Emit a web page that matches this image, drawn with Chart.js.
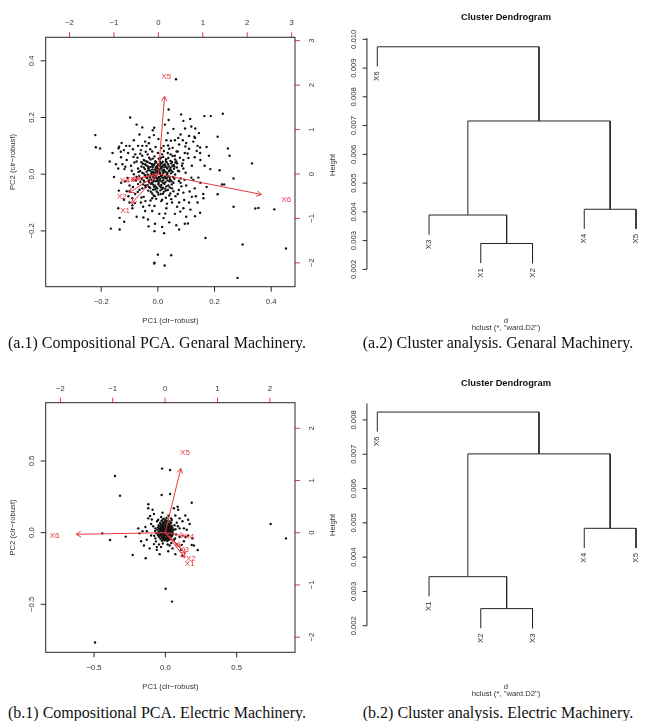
<!DOCTYPE html>
<html>
<head>
<meta charset="utf-8">
<script src="https://cdn.jsdelivr.net/npm/chart.js@4.4.1/dist/chart.umd.min.js"></script>
<style>
  body { margin: 0; background: #fff; width: 645px; height: 721px; position: relative; overflow: hidden; }
  .panel { position: absolute; }
  .cap { position: absolute; font-family: "Liberation Serif", "Times New Roman", serif; font-size: 16px; line-height: 18px;
         color: #111; white-space: nowrap; transform: translateX(-50%); }
</style>
</head>
<body>
<div class="panel" style="left:0;top:0"><canvas id="pcaA" width="320" height="335"></canvas></div>
<div class="panel" style="left:320px;top:0"><canvas id="dendA" width="325" height="335"></canvas></div>
<div class="panel" style="left:0;top:360px"><canvas id="pcaB" width="320" height="340"></canvas></div>
<div class="panel" style="left:320px;top:360px"><canvas id="dendB" width="325" height="340"></canvas></div>
<div class="cap" style="left:157px;top:334px">(a.1) Compositional PCA. Genaral Machinery.</div>
<div class="cap" style="left:498px;top:334px">(a.2) Cluster analysis. Genaral Machinery.</div>
<div class="cap" style="left:157px;top:704px">(b.1) Compositional PCA. Electric Machinery.</div>
<div class="cap" style="left:498px;top:704px">(b.2) Cluster analysis. Electric Machinery.</div>
<script>
// ---- General Machinery: biplot ----
const pcaA_xTicks = [-0.2, 0, 0.2, 0.4]
const pcaA_yTicks = [-0.2, 0, 0.2, 0.4]
const pcaA_topTicks = [-2, -1, 0, 1, 2, 3]
const pcaA_rightTicks = [-2, -1, 0, 1, 2, 3]
const pcaA_vars = ['X1', 'X2', 'X3', 'X4', 'X5', 'X6']
const pcaA_arrowX = [-0.6, -0.66, -0.51, -0.61, 0.14, 2.32]
const pcaA_arrowY = [-0.66, -0.42, -0.11, -0.13, 1.75, -0.46]
const pcaA_labelX = [-0.75, -0.82, -0.64, -0.76, 0.18, 2.88]
const pcaA_labelY = [-0.83, -0.52, -0.13, -0.16, 2.18, -0.59]
const pcaA_points = [
  // outlying scores
  [0.064, 0.335], [-0.098, 0.2], [-0.221, 0.138], [-0.219, 0.095], [-0.204, 0.091], [0.038, 0.228], [0.082, 0.211],
  [0.114, 0.195], [0.164, 0.205], [0.187, 0.205], [0.229, 0.213], [0.211, 0.132], [0.247, 0.091], [0.253, 0.065],
  [0.332, 0.038], [0.218, 0.014], [0.267, -0.015], [0.234, -0.036], [0.226, -0.036], [0.211, -0.071], [0.161, -0.085],
  [0.267, -0.115], [0.344, -0.121], [0.355, -0.119], [0.411, -0.124], [0.168, -0.225], [0.299, -0.248], [0.452, -0.262],
  [0.281, -0.366], [0, -0.284], [-0.012, -0.312], [-0.013, -0.315], [0.024, -0.322], [0.047, -0.286], [-0.166, -0.192],
  [-0.135, -0.195], [-0.135, -0.154], [-0.119, -0.168], [-0.012, -0.201], [0.022, -0.208], [0.015, -0.186], [0.075, -0.195],
  [0.106, -0.174], [0.131, -0.148], [0.149, -0.136], [0.079, -0.132], [0.026, -0.139], [-0.033, -0.184], [-0.051, -0.153],
  [-0.139, 0.091], [-0.137, 0.097], [-0.112, 0.1], [-0.014, 0.138], [-0.013, 0.164], [0.038, 0.191], [0.096, 0.161],
  [0.132, 0.161], [0.129, 0.132], [0.131, 0.128], [0.088, 0.12], [0.149, 0.094], [0.172, 0.096], [0.105, 0.073],
  [0.149, 0.075], [-0.131, 0.079], [-0.086, 0.061], [-0.115, 0.026], [-0.148, 0.035], [-0.1, -0.06], [-0.09, -0.11],
  // spread around the centre
  [-0.08, 0.07], [-0.11, 0.05], [-0.07, 0.1], [-0.095, 0.03], [-0.13, 0.06], [-0.06, 0.085], [-0.12, 0.085], [-0.085, 0.12],
  [-0.04, 0.1], [-0.03, 0.13], [-0.14, 0.02], [-0.1, 0.1], [-0.075, 0.045], [-0.055, 0.065], [-0.02, 0.08], [-0.045, 0.115],
  [-0.125, 0.035], [-0.16, 0.075], [-0.065, 0.14], [-0.018, 0.155],
  [0.07, 0.08], [0.09, 0.05], [0.06, 0.12], [0.11, 0.09], [0.13, 0.06], [0.08, 0.14], [0.1, 0.11], [0.04, 0.09], [0.03, 0.12],
  [0.12, 0.03], [0.15, 0.05], [0.055, 0.16], [0.075, 0.105], [0.02, 0.1], [0.095, 0.075], [0.14, 0.1], [0.165, 0.03],
  [0.045, 0.07], [0.11, 0.135], [0.065, 0.045], [0.18, 0.065], [0.085, 0.03], [0.025, 0.175], [0.125, 0.115], [0.035, 0.145],
  [-0.08, -0.07], [-0.1, -0.04], [-0.06, -0.1], [-0.12, -0.09], [-0.09, -0.12], [-0.05, -0.08], [-0.07, -0.035], [-0.11, -0.06],
  [-0.03, -0.11], [-0.02, -0.085], [-0.13, -0.03], [-0.075, -0.15], [-0.045, -0.13], [-0.1, -0.1], [-0.14, -0.12],
  [-0.065, -0.055], [-0.035, -0.16], [-0.02, -0.13], [-0.09, -0.085], [-0.115, -0.025],
  [0.07, -0.07], [0.1, -0.04], [0.05, -0.1], [0.12, -0.08], [0.09, -0.12], [0.04, -0.075], [0.08, -0.03], [0.11, -0.1],
  [0.03, -0.12], [0.015, -0.09], [0.13, -0.05], [0.06, -0.14], [0.1, -0.15], [0.14, -0.1], [0.075, -0.1], [0.02, -0.155],
  [0.055, -0.06], [0.09, -0.065], [0.15, -0.03], [0.115, -0.125], [0.04, -0.17], [0.16, -0.07], [0.065, -0.18], [0.005, -0.14],
  [0.125, -0.02], [-0.07, 0.02], [-0.075, -0.01], [0.075, 0.01], [0.08, -0.015], [0, 0.075], [0.015, 0.07], [-0.015, -0.075],
  [0.01, -0.07], [0.06, 0.065], [-0.055, -0.05], [0.05, -0.05], [-0.05, 0.05], [0.035, 0.075], [-0.085, 0], [0.09, 0.02], [0, -0.065],
  [-0.083, 0.041], [-0.092, 0.012], [-0.078, -0.022], [-0.088, -0.045], [-0.071, -0.063], [-0.058, -0.082], [-0.044, -0.095],
  [-0.026, -0.093], [-0.006, -0.087], [0.012, -0.095], [0.028, -0.083], [0.047, -0.088], [0.062, -0.078], [0.074, -0.056],
  [0.083, -0.043], [0.094, -0.02], [0.098, 0.005], [0.087, 0.038], [0.078, 0.058], [0.066, 0.08], [0.052, 0.093], [0.036, 0.101],
  [0.012, 0.092], [-0.008, 0.096], [-0.027, 0.088], [-0.043, 0.079], [-0.062, 0.072], [-0.072, 0.058], [-0.105, 0.075],
  [-0.118, 0.018], [-0.107, -0.013], [-0.104, -0.078], [-0.081, -0.102], [-0.052, -0.115], [-0.012, -0.112], [0.032, -0.104],
  [0.068, -0.115], [0.093, -0.091], [0.112, -0.061], [0.118, -0.012], [0.108, 0.057], [0.097, 0.098], [0.072, 0.128],
  [0.046, 0.118], [0.002, 0.124], [-0.032, 0.109], [-0.055, 0.1], [-0.088, 0.088], [0.137, 0.082], [0.143, -0.012],
  [0.134, -0.078], [-0.138, -0.058], [-0.128, 0.11], [0.058, 0.027], [-0.068, 0.008], [0.074, -0.024], [-0.062, -0.028],
  [0.068, 0.038], [-0.058, 0.042], [0.044, -0.068], [-0.036, 0.07], [0.021, 0.082], [-0.011, -0.078], [0.118, 0.168],
  [0.09, 0.188], [-0.055, 0.165], [0.145, 0.145], [0.172, -0.045], [0.185, 0.018], [-0.155, -0.01], [-0.17, 0.045],
  [-0.075, 0.175], [0.095, -0.175], [-0.01, -0.175],
  // dense core
  [-0.031, 0.058], [-0.012, 0.063], [0.003, 0.055], [0.019, 0.061], [0.037, 0.057], [0.052, 0.064],
  [-0.047, 0.048], [-0.026, 0.052], [-0.009, 0.046], [0.006, 0.051], [0.017, 0.044], [0.029, 0.053], [0.044, 0.047], [0.061, 0.052],
  [-0.053, 0.037], [-0.036, 0.043], [-0.021, 0.036], [-0.006, 0.041], [0.001, 0.034], [0.013, 0.039], [0.024, 0.035],
  [0.031, 0.042], [0.047, 0.038], [0.056, 0.033],
  [-0.058, 0.027], [-0.041, 0.031], [-0.027, 0.025], [-0.014, 0.032], [-0.003, 0.026], [0.007, 0.029], [0.016, 0.024],
  [0.026, 0.031], [0.038, 0.027], [0.051, 0.029], [0.067, 0.024],
  [-0.046, 0.018], [-0.033, 0.021], [-0.019, 0.017], [-0.008, 0.023], [0.002, 0.018], [0.011, 0.021], [0.022, 0.016],
  [0.033, 0.02], [0.043, 0.017], [0.057, 0.019],
  [-0.063, 0.011], [-0.04, 0.009], [-0.028, 0.013], [-0.016, 0.008], [-0.004, 0.012], [0.005, 0.009], [0.016, 0.013],
  [0.028, 0.007], [0.039, 0.011], [0.052, 0.008], [0.071, 0.012],
  [-0.05, 0.002], [-0.036, -0.001], [-0.023, 0.003], [-0.011, -0.002], [-0.001, 0.004], [0.009, 0.001], [0.019, 0.004],
  [0.032, -0.002], [0.046, 0.003], [0.061, -0.001],
  [-0.066, -0.006], [-0.043, -0.009], [-0.029, -0.005], [-0.017, -0.011], [-0.006, -0.006], [0.004, -0.01], [0.014, -0.005],
  [0.025, -0.009], [0.037, -0.006], [0.054, -0.01],
  [-0.057, -0.017], [-0.038, -0.014], [-0.024, -0.019], [-0.013, -0.015], [-0.002, -0.02], [0.008, -0.016], [0.019, -0.021],
  [0.029, -0.015], [0.043, -0.019], [0.058, -0.016],
  [-0.048, -0.027], [-0.033, -0.024], [-0.02, -0.029], [-0.008, -0.025], [0.003, -0.03], [0.013, -0.026], [0.027, -0.028],
  [0.041, -0.025], [0.055, -0.03],
  [-0.053, -0.036], [-0.037, -0.039], [-0.024, -0.034], [-0.011, -0.04], [0.001, -0.035], [0.012, -0.038], [0.023, -0.034],
  [0.037, -0.04], [0.049, -0.036],
  [-0.043, -0.046], [-0.027, -0.049], [-0.014, -0.044], [-0.002, -0.05], [0.011, -0.046], [0.026, -0.051], [0.042, -0.047],
  [-0.034, -0.058], [-0.017, -0.055], [-0.004, -0.061], [0.009, -0.057], [0.021, -0.062], [0.035, -0.056],
  [-0.02, -0.068], [0.002, -0.072], [0.018, -0.069],
  [-0.015, 0.005], [0, 0.01], [0.012, -0.003], [-0.007, -0.012], [0.02, 0.01], [-0.022, -0.004], [0.006, 0.016], [-0.01, 0.016],
  [0.016, -0.012], [-0.018, 0.026], [0.024, 0.026], [0, -0.024], [-0.03, -0.02], [0.032, -0.012], [0.009, 0.037], [-0.004, 0.028],
  [-0.04, 0.045], [-0.018, 0.055], [0.011, 0.058], [0.028, 0.046], [0.05, 0.043], [-0.045, 0.035], [-0.028, 0.039],
  [-0.012, 0.037], [0.007, 0.043], [0.019, 0.032], [0.036, 0.035], [0.062, 0.041],
  [-0.05, 0.024], [-0.035, 0.027], [-0.02, 0.028], [-0.002, 0.021], [0.013, 0.027], [0.03, 0.025], [0.045, 0.023],
  [-0.055, 0.005], [-0.034, 0.014], [-0.022, 0.009], [-0.009, 0.006], [0.008, 0.005], [0.023, 0.011], [0.034, 0.005], [0.047, 0.012],
  [-0.045, -0.004], [-0.028, -0.011], [-0.016, -0.003], [-0.001, -0.014], [0.01, -0.007], [0.021, -0.013], [0.041, -0.012],
  [-0.05, -0.022], [-0.03, -0.03], [-0.015, -0.024], [0.006, -0.022], [0.019, -0.031], [0.034, -0.022], [0.048, -0.025],
  [-0.045, -0.04], [-0.031, -0.045], [-0.018, -0.036], [-0.006, -0.045], [0.006, -0.041], [0.018, -0.048], [0.03, -0.043],
  [-0.025, -0.062], [-0.01, -0.053], [0.015, -0.052], [0.028, -0.058]
]

// ---- Electric Machinery: biplot ----
const pcaB_xTicks = [-0.5, 0, 0.5]
const pcaB_yTicks = [-0.5, 0, 0.5]
const pcaB_topTicks = [-2, -1, 0, 1, 2]
const pcaB_rightTicks = [-2, -1, 0, 1, 2]
const pcaB_vars = ['X1', 'X2', 'X3', 'X4', 'X5', 'X6']
const pcaB_arrowX = [0.38, 0.39, 0.29, 0.37, 0.3, -1.7]
const pcaB_arrowY = [-0.48, -0.4, -0.27, -0.06, 1.23, -0.03]
const pcaB_labelX = [0.47, 0.49, 0.36, 0.46, 0.38, -2.11]
const pcaB_labelY = [-0.6, -0.5, -0.33, -0.08, 1.53, -0.06]
const pcaB_points = [
  [-0.353, 0.395], [-0.318, 0.258], [-0.023, 0.447], [0.033, 0.437], [0.033, 0.27], [-0.026, 0.263], [0.086, 0.181],
  [0.185, 0.209], [0.738, 0.06], [0.846, -0.04], [-0.442, -0.005], [-0.388, -0.051], [-0.278, -0.028], [-0.182, -0.005],
  [-0.229, -0.156], [-0.138, -0.179], [0.002, -0.391], [0.047, -0.481], [-0.493, -0.767], [0.227, -0.121], [0.185, -0.086],
  [-0.119, 0.198], [-0.107, 0.116],
  [-0.1, 0.06], [-0.12, 0.1], [-0.08, 0.13], [-0.07, 0.03], [-0.14, 0.04], [-0.1, -0.02], [-0.13, -0.05], [-0.08, -0.08],
  [-0.11, -0.11], [-0.06, -0.12], [-0.03, -0.1], [-0.09, 0.16], [-0.05, 0.09], [-0.15, -0.09], [-0.04, -0.15], [-0.16, 0.01],
  [-0.12, 0.17], [-0.07, -0.04], [-0.02, 0.14], [-0.19, 0.03],
  [0.08, 0.07], [0.1, 0.03], [0.07, 0.12], [0.12, 0.08], [0.06, 0.17], [0.1, -0.03], [0.13, -0.06], [0.08, -0.08],
  [0.11, -0.12], [0.05, -0.11], [0.03, -0.09], [0.15, 0.02], [0.16, -0.02], [0.04, 0.1], [0.14, 0.12], [0.07, -0.15],
  [0.17, 0.06], [0.02, -0.13], [0.12, -0.16], [0.09, 0.16], [0.19, -0.04], [0.06, -0.05], [0.1, 0.1], [0.13, 0.03],
  [-0.085, 0.045], [-0.072, 0.012], [-0.078, -0.022], [-0.066, -0.061], [-0.045, -0.082], [-0.018, -0.076], [0.016, -0.083],
  [0.042, -0.072], [0.068, -0.041], [0.075, -0.012], [0.071, 0.024], [0.064, 0.052], [0.045, 0.088], [0.022, 0.118],
  [-0.03, 0.11], [-0.058, 0.08], [-0.095, 0.092], [-0.13, 0.01], [0.115, -0.085], [0.142, -0.03], [0.088, 0.045],
  [-0.06, -0.1], [0.2, -0.09], [0.16, 0.09], [-0.17, -0.06],
  [-0.012, 0.098], [0.008, 0.103],
  [-0.027, 0.082], [-0.006, 0.077], [0.013, 0.084], [0.029, 0.078],
  [-0.037, 0.067], [-0.017, 0.062], [0.002, 0.068], [0.019, 0.063], [0.041, 0.069],
  [-0.047, 0.052], [-0.023, 0.048], [-0.009, 0.054], [0.01, 0.047], [0.027, 0.053], [0.043, 0.049],
  [-0.052, 0.037], [-0.032, 0.033], [-0.014, 0.038], [0.003, 0.032], [0.016, 0.037], [0.032, 0.031], [0.048, 0.036],
  [-0.057, 0.021], [-0.037, 0.018], [-0.021, 0.023], [-0.004, 0.017], [0.009, 0.022], [0.024, 0.018], [0.041, 0.023], [0.058, 0.019],
  [-0.048, 0.007], [-0.028, 0.01], [-0.013, 0.005], [0.002, 0.009], [0.016, 0.004], [0.032, 0.01], [0.049, 0.006],
  [-0.062, -0.004], [-0.039, -0.007], [-0.024, -0.002], [-0.007, -0.008], [0.007, -0.003], [0.022, -0.007], [0.036, -0.002], [0.053, -0.006],
  [-0.051, -0.019], [-0.032, -0.016], [-0.016, -0.021], [0.001, -0.017], [0.013, -0.02], [0.031, -0.015], [0.048, -0.02],
  [-0.043, -0.031], [-0.026, -0.028], [-0.01, -0.033], [0.009, -0.029], [0.023, -0.032], [0.043, -0.028],
  [-0.034, -0.044], [-0.017, -0.041], [0.002, -0.045], [0.016, -0.042], [0.033, -0.046],
  [-0.024, -0.057], [-0.006, -0.054], [0.014, -0.058],
  [-0.005, 0.027], [0.01, 0.012], [-0.018, 0.014], [0.02, -0.012], [-0.01, -0.025], [0, 0.045], [0.025, 0.04], [-0.03, 0.045],
  [0.005, -0.035], [0.038, -0.01],
  [-0.02, 0.09], [0, 0.088], [-0.016, 0.072], [0.01, 0.073], [0.03, 0.06], [-0.03, 0.058], [-0.002, 0.058], [0.018, 0.055],
  [-0.04, 0.044], [-0.022, 0.04], [0.008, 0.04], [0.038, 0.042], [-0.045, 0.028], [-0.028, 0.026], [-0.012, 0.03],
  [0.018, 0.028], [0.034, 0.024], [0.05, 0.028], [-0.04, 0.012], [-0.02, 0.016], [0, 0.002], [0.024, 0.012], [0.042, 0.013],
  [-0.05, -0.01], [-0.032, -0.01], [-0.015, -0.012], [0.014, -0.01], [0.03, -0.022], [0.045, -0.012], [-0.04, -0.024],
  [-0.022, -0.038], [-0.005, -0.04], [0.015, -0.035], [0.03, -0.04], [-0.014, -0.05], [0.006, -0.05], [0.024, -0.05]
]

// ---- dendrograms (hclust, ward.D2) ----
const dendA_order = ['X6', 'X3', 'X1', 'X2', 'X4', 'X5']
const dendA_merges = [['X1', 'X2'], ['X3', 0], ['X4', 'X5'], [1, 2], ['X6', 3]]
const dendA_heights = [0.0029, 0.00389, 0.00409, 0.00716, 0.00974]
const dendA_ticks = [0.002, 0.003, 0.004, 0.005, 0.006, 0.007, 0.008, 0.009, 0.010]

const dendB_order = ['X6', 'X1', 'X2', 'X3', 'X4', 'X5']
const dendB_merges = [['X2', 'X3'], ['X1', 0], ['X4', 'X5'], [1, 2], ['X6', 3]]
const dendB_heights = [0.0025, 0.00343, 0.00484, 0.00701, 0.00823]
const dendB_ticks = [0.002, 0.003, 0.004, 0.005, 0.006, 0.007, 0.008]

const ink = '#262626'
const pcaRed = '#E8383E'
const sans = '"Liberation Sans", Arial, sans-serif'
const tickFont = '7.7px ' + sans

function fmt(v, digits) {
  return v.toFixed(digits).replace('-', '\u2212')
}

function rotText(ctx, text, x, y, angle, align) {
  ctx.save()
  ctx.translate(x, y)
  ctx.rotate(angle)
  ctx.textAlign = align || 'center'
  ctx.textBaseline = 'middle'
  ctx.fillText(text, 0, 0)
  ctx.restore()
}

function seg(ctx, x0, y0, x1, y1) {
  ctx.beginPath()
  ctx.moveTo(x0, y0)
  ctx.lineTo(x1, y1)
  ctx.stroke()
}

const biplotAxes = {
  id: 'biplotAxes',
  afterDraw(chart, args, o) {
    const { ctx, chartArea: a, scales } = chart
    ctx.save()
    ctx.lineWidth = 1

    // arrow heads, from the arrow segments the library placed
    ctx.strokeStyle = pcaRed
    chart.data.datasets.forEach((ds, i) => {
      if (!ds.arrow) return
      const pts = chart.getDatasetMeta(i).data
      const ang = Math.atan2(pts[1].y - pts[0].y, pts[1].x - pts[0].x)
      const len = 5.5
      ctx.beginPath()
      ctx.moveTo(pts[1].x - len * Math.cos(ang - Math.PI / 6), pts[1].y - len * Math.sin(ang - Math.PI / 6))
      ctx.lineTo(pts[1].x, pts[1].y)
      ctx.lineTo(pts[1].x - len * Math.cos(ang + Math.PI / 6), pts[1].y - len * Math.sin(ang + Math.PI / 6))
      ctx.stroke()
    })
    ctx.fillStyle = pcaRed
    ctx.font = '8px ' + sans
    o.vars.forEach((name, i) => {
      rotText(ctx, name, scales.x2.getPixelForValue(o.labelX[i]), scales.y2.getPixelForValue(o.labelY[i]), 0)
    })

    // red secondary axes
    ctx.fillStyle = '#333'
    ctx.font = tickFont
    o.topTicks.forEach((v) => {
      const px = scales.x2.getPixelForValue(v)
      seg(ctx, px, a.top - 5, px, a.top)
      rotText(ctx, fmt(v, 0), px, a.top - 14, 0)
    })
    o.rightTicks.forEach((v) => {
      const py = scales.y2.getPixelForValue(v)
      seg(ctx, a.right, py, a.right + 5, py)
      rotText(ctx, fmt(v, 0), a.right + 16.5, py, -Math.PI / 2)
    })

    // black primary axes and box
    ctx.strokeStyle = ink
    ctx.strokeRect(a.left, a.top, a.right - a.left, a.bottom - a.top)
    o.xTicks.forEach((v) => {
      const px = scales.x.getPixelForValue(v)
      seg(ctx, px, a.bottom, px, a.bottom + 5)
      rotText(ctx, fmt(v, 1), px, a.bottom + 15.3, 0)
    })
    o.yTicks.forEach((v) => {
      const py = scales.y.getPixelForValue(v)
      seg(ctx, a.left - 5, py, a.left, py)
      rotText(ctx, fmt(v, 1), a.left - 14, py, -Math.PI / 2)
    })
    rotText(ctx, 'PC1 (clr\u2212robust)', (a.left + a.right) / 2, a.bottom + 34.3, 0)
    rotText(ctx, 'PC2 (clr\u2212robust)', 13.3, (a.top + a.bottom) / 2, -Math.PI / 2)
    ctx.restore()
  },
}

function makeBiplot(id, points, vars, arrowX, arrowY, ranges, pad, axes) {
  const datasets = [{
    order: 1,
    data: points.map((p) => ({ x: p[0], y: p[1] })),
    pointRadius: 1.2,
    pointBackgroundColor: '#111',
    pointBorderWidth: 0,
    xAxisID: 'x',
    yAxisID: 'y',
  }]
  vars.forEach((name, i) => {
    datasets.push({
      arrow: true,
      order: 0,
      label: name,
      data: [{ x: 0, y: 0 }, { x: arrowX[i], y: arrowY[i] }],
      showLine: true,
      borderColor: pcaRed,
      borderWidth: 1,
      pointRadius: 0,
      xAxisID: 'x2',
      yAxisID: 'y2',
    })
  })
  return new Chart(document.getElementById(id), {
    type: 'scatter',
    data: { datasets },
    options: {
      responsive: false,
      animation: false,
      events: [],
      layout: { padding: pad },
      plugins: { legend: { display: false }, tooltip: { enabled: false }, biplotAxes: axes },
      scales: {
        x: { type: 'linear', display: false, min: ranges.x[0], max: ranges.x[1] },
        y: { type: 'linear', display: false, min: ranges.y[0], max: ranges.y[1] },
        x2: { type: 'linear', position: 'top', display: false, min: ranges.s[0], max: ranges.s[1] },
        y2: { type: 'linear', position: 'right', display: false, min: ranges.t[0], max: ranges.t[1] },
      },
    },
    plugins: [biplotAxes],
  })
}

function buildDendro(order, merges, heights) {
  const span = Math.max(...heights) - Math.min(...heights)
  const hang = 0.1 * span
  const nodes = []
  const leaves = []
  const segments = []
  merges.forEach((m, i) => {
    const h = heights[i]
    const kids = m.map((c) => {
      if (typeof c === 'string') {
        const leaf = { name: c, x: order.indexOf(c) + 1, y: h - hang }
        leaves.push(leaf)
        return leaf
      }
      return nodes[c]
    })
    segments.push([
      { x: kids[0].x, y: kids[0].y }, { x: kids[0].x, y: h },
      { x: kids[1].x, y: h }, { x: kids[1].x, y: kids[1].y },
    ])
    nodes[i] = { x: (kids[0].x + kids[1].x) / 2, y: h }
  })
  return { segments, leaves }
}

const dendroAxis = {
  id: 'dendroAxis',
  afterDraw(chart, args, o) {
    const { ctx, chartArea: a, scales: { x, y } } = chart
    ctx.save()
    ctx.strokeStyle = ink
    ctx.fillStyle = '#333'
    ctx.lineWidth = 1
    ctx.font = tickFont
    seg(ctx, a.left, y.getPixelForValue(o.ticks[0]), a.left, a.top)
    o.ticks.forEach((v) => {
      const py = y.getPixelForValue(v)
      seg(ctx, a.left - 4.3, py, a.left, py)
      rotText(ctx, fmt(v, 3), a.left - 13.4, py, -Math.PI / 2)
    })
    rotText(ctx, 'Height', 13.3, (a.top + a.bottom) / 2, -Math.PI / 2)
    ctx.font = '7.9px ' + sans
    o.leaves.forEach((leaf) => {
      rotText(ctx, leaf.name, x.getPixelForValue(leaf.x), y.getPixelForValue(leaf.y) + 5, -Math.PI / 2, 'right')
    })
    ctx.font = tickFont
    const cx = (a.left + a.right) / 2
    rotText(ctx, 'd', cx, o.subY[0], 0)
    rotText(ctx, 'hclust (*, "ward.D2")', cx, o.subY[1], 0)
    ctx.restore()
  },
}

function makeDendro(id, order, merges, heights, ticks, yRange, pad, titlePad, subY) {
  const tree = buildDendro(order, merges, heights)
  const datasets = tree.segments.map((s) => ({
    data: s,
    showLine: true,
    borderColor: ink,
    borderWidth: 1,
    pointRadius: 0,
  }))
  return new Chart(document.getElementById(id), {
    type: 'scatter',
    data: { datasets },
    options: {
      responsive: false,
      animation: false,
      events: [],
      layout: { padding: pad },
      plugins: {
        legend: { display: false },
        tooltip: { enabled: false },
        title: {
          display: true,
          text: 'Cluster Dendrogram',
          color: '#111',
          font: { family: sans, size: 9.3, weight: 'bold', lineHeight: 1.2 },
          padding: titlePad,
        },
        dendroAxis: { ticks, leaves: tree.leaves, subY },
      },
      scales: {
        x: { type: 'linear', display: false, min: 0.8, max: 6.174 },
        y: { type: 'linear', display: false, min: yRange[0], max: yRange[1] },
      },
    },
    plugins: [dendroAxis],
  })
}

makeBiplot('pcaA', pcaA_points, pcaA_vars, pcaA_arrowX, pcaA_arrowY,
  { x: [-0.396, 0.484], y: [-0.397, 0.483], s: [-2.536, 3.076], t: [-2.536, 3.076] },
  { left: 45.7, top: 37.3, right: 25, bottom: 48.3 },
  { xTicks: pcaA_xTicks, yTicks: pcaA_yTicks, topTicks: pcaA_topTicks, rightTicks: pcaA_rightTicks,
    vars: pcaA_vars, labelX: pcaA_labelX, labelY: pcaA_labelY })

makeBiplot('pcaB', pcaB_points, pcaB_vars, pcaB_arrowX, pcaB_arrowY,
  { x: [-0.839, 0.909], y: [-0.835, 0.907], s: [-2.28, 2.48], t: [-2.29, 2.49] },
  { left: 45.7, top: 42.7, right: 25, bottom: 47.7 },
  { xTicks: pcaB_xTicks, yTicks: pcaB_yTicks, topTicks: pcaB_topTicks, rightTicks: pcaB_rightTicks,
    vars: pcaB_vars, labelX: pcaB_labelX, labelY: pcaB_labelY })

makeDendro('dendA', dendA_order, dendA_merges, dendA_heights, dendA_ticks, [0.00122, 0.01004],
  { left: 46.95, top: 0, right: 0, bottom: 43.2 }, { top: 12.1, bottom: 14.9 }, [321, 328])

makeDendro('dendB', dendB_order, dendB_merges, dendB_heights, dendB_ticks, [0.001395, 0.00848],
  { left: 46.95, top: 0, right: 0, bottom: 53.5 }, { top: 17.7, bottom: 14.6 }, [326.7, 334])
</script>
</body>
</html>
